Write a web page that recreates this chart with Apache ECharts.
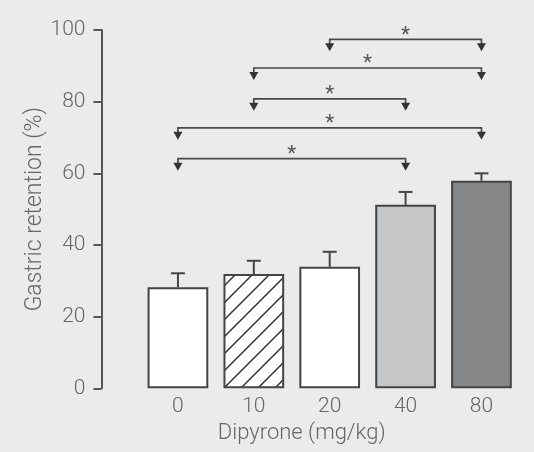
<!DOCTYPE html>
<html><head><meta charset="utf-8">
<script src="https://cdn.jsdelivr.net/npm/echarts@6/dist/echarts.min.js"></script>
<style>html,body{margin:0;padding:0;background:#ebebeb}#c{width:534px;height:452px}</style>
</head><body><div id="c"></div>
<script>
const categories = ['0', '10', '20', '40', '80'];
const retention = [28.2, 31.9, 33.9, 51.2, 57.9];
const sem = [3.9, 3.7, 4.2, 3.6, 2.1];
const yTicks = [0, 20, 40, 60, 80, 100];
// significance brackets: from category index, to category index, bracket level (%)
const bracketFrom = [2, 1, 1, 0, 0];
const bracketTo = [4, 4, 3, 4, 3];
const bracketLevel = [97.4, 89.4, 80.8, 72.7, 64.1];
const bracketMark = ['*', '*', '*', '*', '*'];

const FONT = 'Roboto, "Liberation Sans", sans-serif';
const TXT = '#666';
const INK = '#444';

function hatch() {
  const s = 17;
  const c = document.createElement('canvas');
  c.width = s; c.height = s;
  const x = c.getContext('2d');
  x.fillStyle = '#fff'; x.fillRect(0, 0, s, s);
  x.strokeStyle = '#333'; x.lineWidth = 1.5;
  x.beginPath();
  x.moveTo(0, s); x.lineTo(s, 0);
  x.moveTo(-2, 2); x.lineTo(2, -2);
  x.moveTo(s - 2, s + 2); x.lineTo(s + 2, s - 2);
  x.stroke();
  return c;
}
const fills = ['#ffffff', { image: hatch(), repeat: 'repeat' }, '#ffffff', '#c5c6c8', '#858688'];

const chart = echarts.init(document.getElementById('c'), null, { renderer: 'canvas' });
chart.setOption({
  backgroundColor: '#ebebeb',
  animation: false,
  grid: { left: 140, right: 14.6, top: 30, bottom: 63.7 },
  xAxis: {
    type: 'category', data: categories,
    axisLine: { show: false }, axisTick: { show: false },
    axisLabel: { color: TXT, fontSize: 21, fontFamily: FONT, fontWeight: 300, margin: 8 },
    name: 'Dipyrone (mg/kg)', nameLocation: 'middle', nameGap: 34, nameMoveOverlap: false,
    nameTextStyle: { color: TXT, fontSize: 22, fontFamily: FONT, fontWeight: 300, padding: [0, 56, 0, 0] }
  },
  yAxis: {
    type: 'value', min: yTicks[0], max: yTicks[yTicks.length - 1], interval: 20, offset: 38.5,
    axisLine: { show: true, lineStyle: { color: '#555', width: 2 } },
    axisTick: { show: true, length: 8, lineStyle: { color: '#555', width: 2 } },
    splitLine: { show: false },
    axisLabel: { color: TXT, fontSize: 21, fontFamily: FONT, fontWeight: 300, margin: 16 },
    name: 'Gastric retention (%)', nameLocation: 'middle', nameGap: 55, nameRotate: 90, nameMoveOverlap: false,
    nameTextStyle: { color: TXT, fontSize: 23, fontFamily: FONT, fontWeight: 300 }
  },
  series: [
    {
      type: 'bar', barWidth: '80%',
      data: retention.map((v, i) => ({ value: v, itemStyle: { color: fills[i] } })),
      itemStyle: { borderColor: INK, borderWidth: 2 }
    },
    {
      type: 'custom', z: 5,
      data: retention.map((v, i) => [i, v, sem[i]]),
      encode: { x: 0, y: 1 },
      renderItem: function (params, api) {
        const i = api.value(0), v = api.value(1), e = api.value(2);
        const p0 = api.coord([i, v]);
        const p1 = api.coord([i, v + e]);
        const st = { stroke: INK, lineWidth: 2 };
        return {
          type: 'group', children: [
            { type: 'line', shape: { x1: p0[0], y1: p0[1], x2: p1[0], y2: p1[1] }, style: st },
            { type: 'line', shape: { x1: p1[0] - 7, y1: p1[1], x2: p1[0] + 7, y2: p1[1] }, style: st }
          ]
        };
      }
    },
    {
      type: 'custom', z: 6,
      data: bracketFrom.map((f, k) => [f, bracketTo[k], bracketLevel[k], bracketMark[k]]),
      encode: { x: 0, y: 2 },
      renderItem: function (params, api) {
        const a = api.coord([api.value(0), api.value(2)]);
        const b = api.coord([api.value(1), api.value(2)]);
        const y = a[1];
        const st = { stroke: '#4a4a4a', lineWidth: 1.7, fill: null };
        const tri = (x) => ({ type: 'polygon', shape: { points: [[x - 4.5, y + 4], [x + 4.5, y + 4], [x, y + 12]] }, style: { fill: '#333' } });
        return {
          type: 'group', children: [
            { type: 'polyline', shape: { points: [[a[0], y + 5], [a[0], y], [b[0], y], [b[0], y + 5]] }, style: st },
            tri(a[0]), tri(b[0]),
            { type: 'text', x: (a[0] + b[0]) / 2, y: y - 4,
              style: { text: api.value(3), fill: '#555', font: '21px ' + FONT, align: 'center', verticalAlign: 'middle' } }
          ]
        };
      }
    }
  ]
});
</script></body></html>
